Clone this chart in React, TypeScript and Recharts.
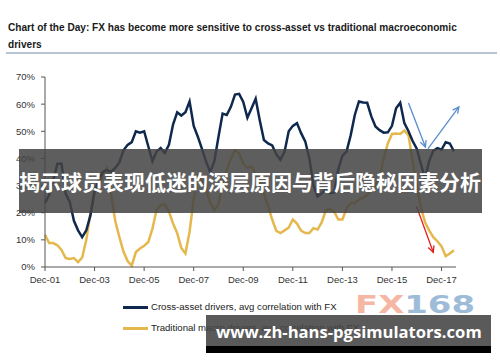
import React from "react";
import { LineChart, Line, XAxis, YAxis, ReferenceLine } from "recharts";

// bi-monthly observations, first one is Dec-01
const crossAsset = [
  23.6, 26.5, 32, 38, 38, 27, 24, 17, 13.5, 11,
  13.5, 19, 28, 32, 35, 35.8, 35, 36.5, 38.5, 43,
  45, 46, 50, 49.5, 50, 44.5, 39, 42.5, 43.8, 42,
  45, 52.5, 57, 55.8, 57, 61, 52, 48, 43.5, 38.8,
  35, 39, 48, 56.5, 56, 59, 63.5, 63.8, 60.8, 55,
  58.5, 62, 54, 46.8, 45.5, 44.8, 41.5, 39.5, 42.5, 50,
  52, 53, 49.3, 46.3, 40, 30, 26, 27.2, 28.8, 27.2,
  27.5, 36, 41, 42.5, 48.5, 56, 61, 60.6, 60.5, 55.5,
  51.8, 50.4, 49.5, 49.6, 52, 58.5, 60.5, 53, 50, 46.4,
  43.6, 38, 32.5, 39, 42.8, 43.8, 43.2, 46, 45.5, 42.6,
];

const traditional = [
  11.9, 8.8, 8.8, 8, 6.3, 3.3, 3, 3.3, 1.8, 3.5,
  10, 20, 27, 30, 34, 36.5, 27, 17, 11, 5.7,
  2.2, 0.5, 5.5, 6.8, 7.8, 9.2, 14, 21, 22.8, 23,
  20.5, 16, 12.5, 7, 5, 13, 25, 33.5, 32, 29,
  23.6, 21, 23, 31, 35.8, 40, 43, 42, 38, 36.5,
  37, 34.5, 31.5, 27, 22.5, 17.5, 13.3, 12.5, 13.5, 14.5,
  17.5, 16, 13.4, 12.5, 12.5, 14.3, 13.8, 16.5, 21, 21.3,
  20.4, 17.5, 17.5, 21.5, 23.6, 23.6, 24.8, 25.5, 26.5, 28.5,
  30, 33, 40, 45.5, 49, 49.2, 49, 50.3, 48.5, 39,
  30, 22, 16.5, 13.5, 11, 9.5, 7.6, 4, 5, 6.2,
];

const tickMonths = [0, 24, 48, 72, 96, 120, 144, 168, 192];
const tickLabels = ["Dec-01", "Dec-03", "Dec-05", "Dec-07", "Dec-09", "Dec-11", "Dec-13", "Dec-15", "Dec-17"];
const yTicks = [0, 10, 20, 30, 40, 50, 60, 70];

// annotation arrows: [month, value] -> [month, value]
const arrows = [
  { from: [176, 60.4], to: [184.2, 44.2], color: "#5b8dcb" },
  { from: [185.4, 43.5], to: [200.4, 59], color: "#5b8dcb" },
  { from: [179.9, 22.3], to: [188, 5.4], color: "#e3211c" },
];

const NAVY = "#0f284d";
const GOLD = "#e4b84c";
const FONT = "'Liberation Sans', Arial, sans-serif";

const data = crossAsset.map((v, i) => ({ m: i * 2, cross: v, trad: traditional[i] }));

const Arrow = (color: string) => (p: any) => {
  const { x1, y1, x2, y2 } = p;
  const a = Math.atan2(y2 - y1, x2 - x1);
  const L = 7;
  const s = 0.45;
  const h1x = x2 - L * Math.cos(a - s), h1y = y2 - L * Math.sin(a - s);
  const h2x = x2 - L * Math.cos(a + s), h2y = y2 - L * Math.sin(a + s);
  return (
    <g>
      <line x1={x1} y1={y1} x2={x2} y2={y2} stroke={color} strokeWidth={1.3} />
      <polyline points={`${h1x},${h1y} ${x2},${y2} ${h2x},${h2y}`} fill="none" stroke={color} strokeWidth={1.3} />
    </g>
  );
};

export default function App() {
  return (
    <div style={{ position: "absolute", left: 0, top: 0, width: 500, height: 362, background: "#fff", overflow: "hidden", fontFamily: FONT }}>
      <div style={{ position: "absolute", left: 8, top: 19, width: 470, fontSize: 10.1, lineHeight: "17px", fontWeight: "bold", color: "#1a1a1a" }}>
        Chart of the Day: FX has become more sensitive to cross-asset vs traditional macroeconomic<br />drivers
      </div>
      <div style={{ position: "absolute", left: 6, top: 52, width: 491, height: 2, background: "#b6c4d6" }} />

      <div style={{ position: "absolute", left: 0, top: 0 }}>
        <LineChart width={500} height={362} data={data} margin={{ top: 77, right: 44, bottom: 75, left: 0 }}>
          <XAxis
            dataKey="m"
            type="number"
            domain={[0, 199]}
            ticks={tickMonths}
            tickFormatter={(v: number) => tickLabels[tickMonths.indexOf(v)]}
            height={20}
            tickSize={4}
            tickMargin={5}
            stroke="#555"
            tick={{ fill: "#333", fontSize: 9.5, fontFamily: FONT }}
          />
          <YAxis
            type="number"
            domain={[0, 70]}
            ticks={yTicks}
            tickFormatter={(v: number) => `${v}%`}
            width={45}
            tickSize={4}
            tickMargin={6}
            stroke="#555"
            tick={{ fill: "#333", fontSize: 9.5, fontFamily: FONT }}
          />
          <Line dataKey="trad" stroke={GOLD} strokeWidth={2.5} dot={false} isAnimationActive={false} />
          <Line dataKey="cross" stroke={NAVY} strokeWidth={2.5} dot={false} isAnimationActive={false} />
          {arrows.map((a, i) => (
            <ReferenceLine
              key={i}
              ifOverflow="visible"
              segment={[{ x: a.from[0], y: a.from[1] }, { x: a.to[0], y: a.to[1] }]}
              shape={Arrow(a.color)}
            />
          ))}
        </LineChart>
      </div>

      <div style={{ position: "absolute", left: 123, top: 306, width: 25, height: 3, background: NAVY }} />
      <div style={{ position: "absolute", left: 151, top: 301, fontSize: 9.6, lineHeight: "12px", color: "#222" }}>
        Cross-asset drivers, avg correlation with FX
      </div>
      <div style={{ position: "absolute", left: 123, top: 327, width: 25, height: 3, background: GOLD }} />
      <div style={{ position: "absolute", left: 151, top: 322, fontSize: 9.6, lineHeight: "12px", color: "#222" }}>
        Traditional macro drivers, avg correlation with FX
      </div>

      <svg style={{ position: "absolute", left: 0, top: 0 }} width={500} height={362}>
        <text x={355} y={313} fontSize={25} fontWeight="bold" fontFamily="'DejaVu Sans', sans-serif" textLength={120} lengthAdjust="spacingAndGlyphs" opacity={0.75}>
          <tspan fill="#f2a085">FX</tspan>
          <tspan fill="#7ea6cc">168</tspan>
        </text>
      </svg>

      <div style={{ position: "absolute", left: 19, top: 149, width: 463, height: 64, background: "rgba(67,67,67,0.86)" }} />
      <div style={{ position: "absolute", left: 19, top: 167, width: 463, fontSize: 21, lineHeight: "28px", fontWeight: "bold", color: "#fff", fontFamily: "'Noto Sans CJK SC', sans-serif", whiteSpace: "nowrap" }}>
        揭示球员表现低迷的深层原因与背后隐秘因素分析
      </div>

      <div style={{ position: "absolute", left: 206, top: 315, width: 285, height: 31, background: "rgba(67,67,67,0.88)" }} />
      <div style={{ position: "absolute", left: 206, top: 346, width: 285, height: 7, background: "#000" }} />
      <div style={{ position: "absolute", left: 216, top: 320, fontSize: 16.6, lineHeight: "24px", fontWeight: "bold", color: "#fff", fontFamily: "'Open Sans', sans-serif", whiteSpace: "nowrap" }}>
        www.zh-hans-pgsimulators.com
      </div>
    </div>
  );
}
